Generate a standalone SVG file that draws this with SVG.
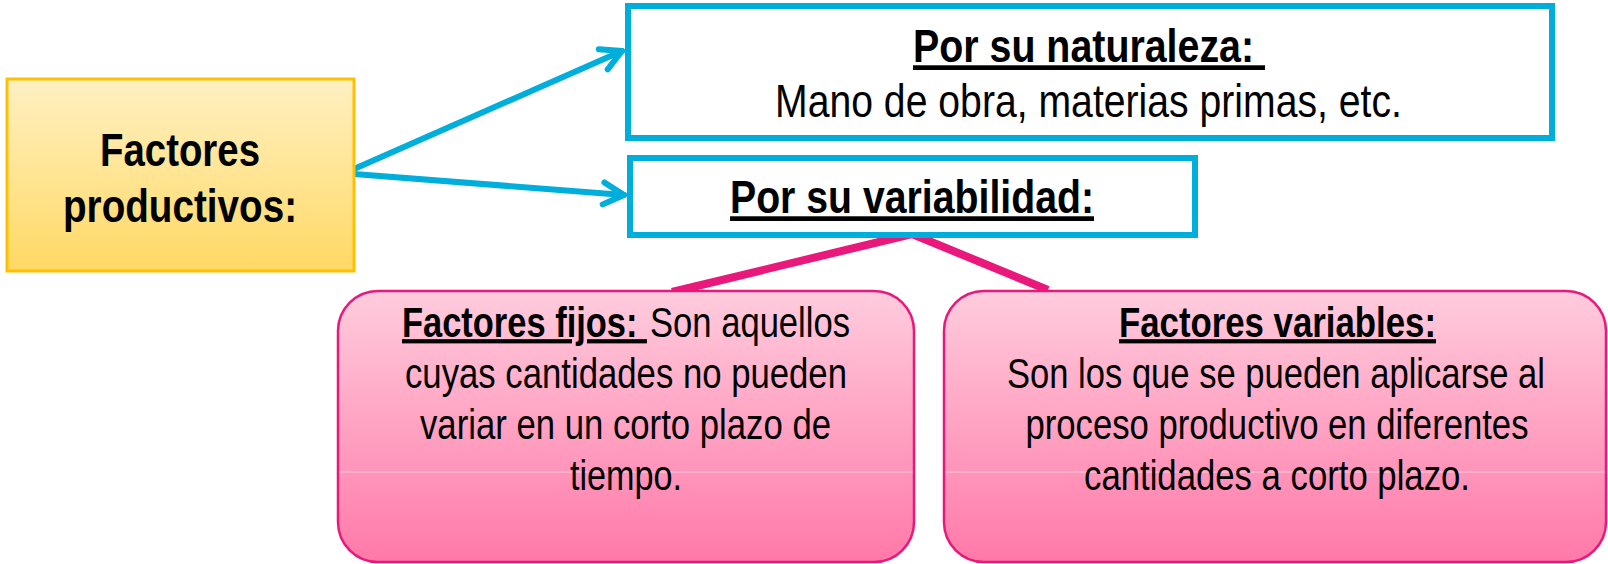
<svg xmlns="http://www.w3.org/2000/svg" width="1608" height="564" viewBox="0 0 1608 564">
  <style>
    .t { font-family: "Liberation Sans", Arial, sans-serif; fill: #000; }
    .big { font-size: 47px; }
    .med { font-size: 42px; }
    .b { font-weight: bold; }
    .u { text-decoration: underline; }
    .blue { fill: #ffffff; stroke: #00AEDB; stroke-width: 6; }
    .conn { fill: none; stroke: #00AEDB; stroke-width: 6; stroke-linecap: round; }
    .pinkline { fill: none; stroke: #E8197B; stroke-width: 8; stroke-linecap: butt; }
    .pinkbox { fill: url(#gPink); stroke: #E8197B; stroke-width: 2.5; }
    .band { stroke: #ffffff; stroke-opacity: 0.55; stroke-width: 1; }
  </style>
  <defs>
    <linearGradient id="gYellow" x1="0" y1="0" x2="0" y2="1">
      <stop offset="0" stop-color="#FFF0C3"/>
      <stop offset="1" stop-color="#FFD964"/>
    </linearGradient>
    <linearGradient id="gPink" x1="0" y1="0" x2="0" y2="1">
      <stop offset="0" stop-color="#FFCCDD"/>
      <stop offset="1" stop-color="#FF79A8"/>
    </linearGradient>
    <marker id="chev" markerUnits="userSpaceOnUse" viewBox="-26 -16 30 32" refX="0" refY="0" markerWidth="30" markerHeight="32" orient="auto" overflow="visible">
      <path d="M-20.5,-11 L0,0 L-20.5,11" fill="none" stroke="#00AEDB" stroke-width="6" stroke-linecap="round" stroke-linejoin="round"/>
    </marker>
  </defs>

  <g id="connectors">
    <line class="conn" x1="354" y1="169" x2="622" y2="51" marker-end="url(#chev)"/>
    <line class="conn" x1="354" y1="174" x2="624" y2="195" marker-end="url(#chev)"/>
    <polyline class="pinkline" points="672,292 912,234 1048,290"/>
  </g>

  <g id="factores-productivos">
    <rect x="7" y="79" width="347" height="192" fill="url(#gYellow)" stroke="#FFC000" stroke-width="3"/>
    <text class="t big b" text-anchor="middle" transform="translate(180 166) scale(0.82 1)" textLength="195.1" lengthAdjust="spacingAndGlyphs">Factores</text>
    <text class="t big b" text-anchor="middle" transform="translate(180 222) scale(0.82 1)" textLength="285.4" lengthAdjust="spacingAndGlyphs">productivos:</text>
  </g>

  <g id="por-su-naturaleza">
    <rect class="blue" x="628" y="6" width="924" height="132"/>
    <text class="t big b u" transform="translate(913 62) scale(0.82 1)" xml:space="preserve" textLength="429.3" lengthAdjust="spacingAndGlyphs">Por su naturaleza: </text>
    <text class="t big" transform="translate(775 117) scale(0.82 1)" textLength="764.6" lengthAdjust="spacingAndGlyphs">Mano de obra, materias primas, etc.</text>
  </g>

  <g id="por-su-variabilidad">
    <rect class="blue" x="630" y="158" width="565" height="77"/>
    <text class="t big b u" transform="translate(730 213) scale(0.82 1)" textLength="443.9" lengthAdjust="spacingAndGlyphs">Por su variabilidad:</text>
  </g>

  <g id="factores-fijos">
    <rect class="pinkbox" x="338" y="291" width="576" height="271" rx="40" ry="40"/>
    <line class="band" x1="339.5" y1="472" x2="912.5" y2="472"/>
    <text class="t med b u" transform="translate(402 337) scale(0.82 1)" xml:space="preserve" textLength="298.8" lengthAdjust="spacingAndGlyphs">Factores fijos: </text>
    <text class="t med" transform="translate(650 337) scale(0.82 1)" textLength="243.9" lengthAdjust="spacingAndGlyphs">Son aquellos</text>
    <text class="t med" text-anchor="middle" transform="translate(626 388) scale(0.82 1)" textLength="539" lengthAdjust="spacingAndGlyphs">cuyas cantidades no pueden</text>
    <text class="t med" text-anchor="middle" transform="translate(625.5 439) scale(0.82 1)" textLength="501.2" lengthAdjust="spacingAndGlyphs">variar en un corto plazo de</text>
    <text class="t med" text-anchor="middle" transform="translate(626 490) scale(0.82 1)" textLength="136.6" lengthAdjust="spacingAndGlyphs">tiempo.</text>
  </g>

  <g id="factores-variables">
    <rect class="pinkbox" x="944" y="291" width="662" height="271" rx="40" ry="40"/>
    <line class="band" x1="945.5" y1="472" x2="1604.5" y2="472"/>
    <text class="t med b u" transform="translate(1119 337) scale(0.82 1)" textLength="386.6" lengthAdjust="spacingAndGlyphs">Factores variables:</text>
    <text class="t med" text-anchor="middle" transform="translate(1276 388) scale(0.82 1)" textLength="656.1" lengthAdjust="spacingAndGlyphs">Son los que se pueden aplicarse al</text>
    <text class="t med" text-anchor="middle" transform="translate(1277 439) scale(0.82 1)" textLength="613.4" lengthAdjust="spacingAndGlyphs">proceso productivo en diferentes</text>
    <text class="t med" text-anchor="middle" transform="translate(1277 490) scale(0.82 1)" textLength="470.7" lengthAdjust="spacingAndGlyphs">cantidades a corto plazo.</text>
  </g>
</svg>
